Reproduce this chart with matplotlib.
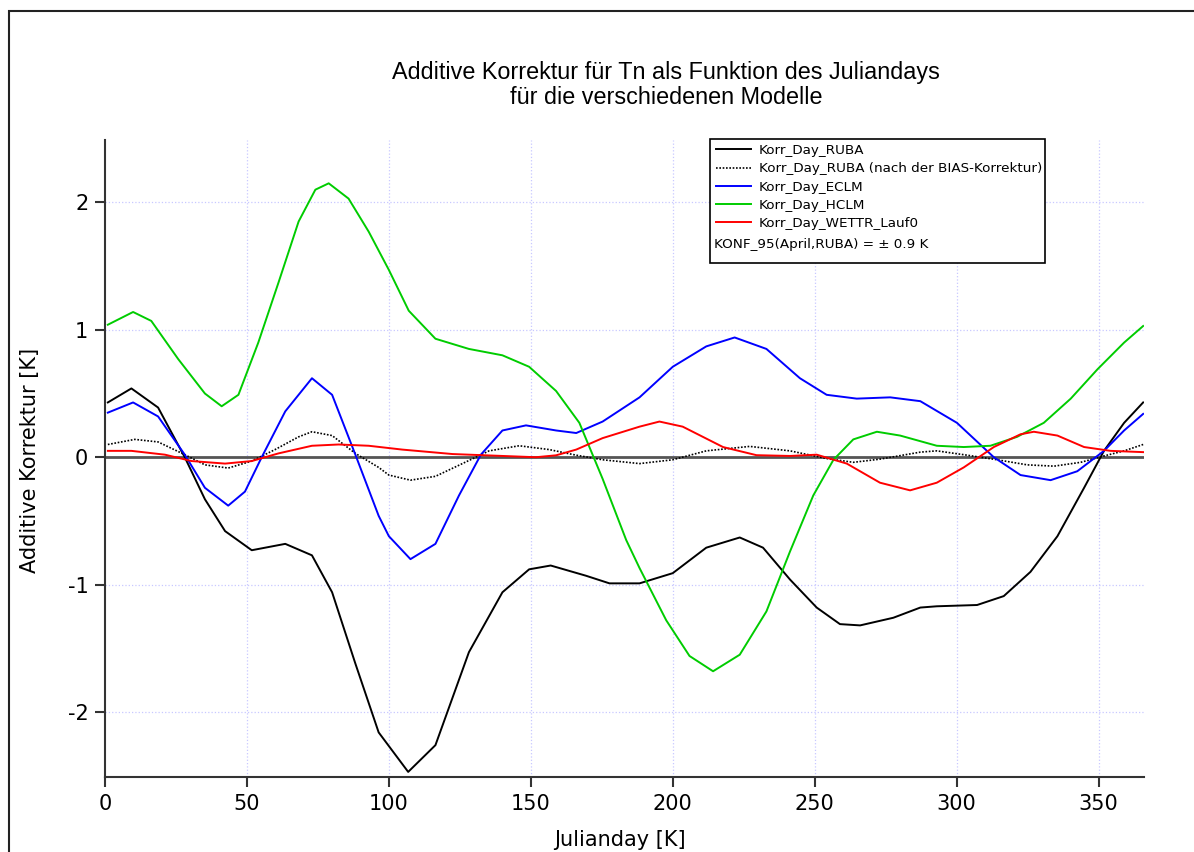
import numpy as np
import matplotlib.pyplot as plt
from matplotlib.patches import Rectangle

plt.rcParams['font.family'] = ['DejaVu Sans']
plt.rcParams['axes.unicode_minus'] = False

# values (day, correction in K)
ruba_day = [1, 9.3, 18.7, 28.1, 35.2, 42.3, 51.7, 63.5, 72.9, 80, 88.2, 96.4,
            106.8, 116.4, 128.2, 140, 149.4, 157, 169.4, 177.7, 188.3, 200,
            211.8, 223.6, 231.8, 241.3, 250.7, 258.9, 266, 277.7, 287.2,
            293, 307.2, 316.6, 326, 335.5, 344.9, 351.9, 359, 365.7]
ruba_val = [0.43, 0.54, 0.39, 0.0, -0.33, -0.58, -0.73, -0.68, -0.77, -1.06, -1.62, -2.16,
            -2.47, -2.26, -1.53, -1.06, -0.88, -0.85, -0.93, -0.99, -0.99, -0.91,
            -0.71, -0.63, -0.71, -0.96, -1.18, -1.31, -1.32, -1.26, -1.18,
            -1.17, -1.16, -1.09, -0.9, -0.62, -0.24, 0.05, 0.27, 0.43]

bias_day = [1, 10.5, 18.7, 28.1, 35.2, 43.4, 51.7, 59.9, 68.2, 72.9, 80, 88.2, 96.4,
            100, 107.6, 116.4, 125.9, 135.3, 145.9, 156.5, 166, 175.3, 188.3,
            200, 211.8, 227.1, 241.3, 254.2, 263.6, 273, 287.2, 293, 303.7,
            314.3, 324.9, 334.3, 343.7, 351.9, 359, 365.7]
bias_val = [0.10, 0.14, 0.12, 0.02, -0.06, -0.085, -0.03, 0.06, 0.16, 0.20, 0.17, 0.03, -0.08,
            -0.14, -0.18, -0.15, -0.05, 0.05, 0.09, 0.06, 0.016, -0.02, -0.05,
            -0.02, 0.05, 0.085, 0.05, -0.01, -0.04, -0.015, 0.04, 0.05, 0.016,
            -0.02, -0.06, -0.07, -0.04, 0.01, 0.05, 0.10]

eclm_day = [1, 9.9, 18.7, 28.1, 35.2, 43.4, 49.3, 55.2, 63.5, 72.9, 80, 88.2, 96.4,
            100, 107.6, 116.4, 124.7, 132.4, 140, 148.3, 158.9, 166, 175.3, 188.3,
            200, 211.8, 221.8, 233, 244.8, 254.2, 264.8, 276.6, 287.2, 300.1,
            313.1, 322.5, 333.1, 342.5, 351.9, 359, 365.7]
eclm_val = [0.35, 0.43, 0.32, 0.02, -0.24, -0.38, -0.27, 0.0, 0.36, 0.62, 0.49, 0.02, -0.46,
            -0.62, -0.80, -0.68, -0.30, 0.02, 0.21, 0.25, 0.21, 0.19, 0.28, 0.47,
            0.71, 0.87, 0.94, 0.85, 0.62, 0.49, 0.46, 0.47, 0.44, 0.27,
            0.0, -0.14, -0.18, -0.11, 0.05, 0.21, 0.34]

hclm_day = [1, 9.9, 16.3, 25.8, 35.2, 41.1, 47, 54, 61.1, 68.2, 74.1, 78.8, 85.8, 92.9,
            100, 107, 116.4, 128.2, 140, 149.4, 158.9, 167.1, 175.3, 183.6, 188.3,
            197.7, 205.9, 214.2, 223.6, 233, 241.3, 249.5, 256.6, 263.6, 271.9,
            280.1, 293, 302.5, 311.9, 321.3, 330.7, 340.2, 349.6, 359, 365.7]
hclm_val = [1.04, 1.14, 1.07, 0.77, 0.50, 0.40, 0.49, 0.90, 1.37, 1.85, 2.10, 2.15, 2.03, 1.77,
            1.47, 1.15, 0.93, 0.85, 0.80, 0.71, 0.52, 0.27, -0.17, -0.65, -0.87,
            -1.28, -1.56, -1.68, -1.55, -1.21, -0.74, -0.30, -0.02, 0.14, 0.20,
            0.17, 0.09, 0.08, 0.09, 0.16, 0.27, 0.46, 0.69, 0.90, 1.03]

wettr_day = [1, 9.3, 21.1, 30.5, 42.3, 51.7, 61.1, 72.9, 82.3, 92.9, 104.7, 122.4, 140,
             151.8, 158.9, 166, 175.3, 188.3, 195.3, 203.5, 217.7, 229.5, 241.3,
             250.7, 261.3, 273, 283.6, 293, 302.5, 313.1, 322.5, 327.2, 335.5,
             344.9, 354.2, 365.7]
wettr_val = [0.05, 0.05, 0.02, -0.03, -0.05, -0.03, 0.03, 0.09, 0.10, 0.09, 0.06, 0.025, 0.01,
             0.0, 0.015, 0.06, 0.15, 0.24, 0.28, 0.24, 0.08, 0.016, 0.01,
             0.02, -0.05, -0.2, -0.26, -0.2, -0.08, 0.08, 0.18, 0.20, 0.17,
             0.08, 0.05, 0.04]

W, H = 1194, 852
fig = plt.figure(figsize=(W / 100, H / 100), dpi=100)
ax = fig.add_axes([105 / W, 1 - 777 / H, (1144 - 105) / W, (777 - 140) / H])

# outer frame of the page
fig.patches.append(Rectangle((9 / W, -0.2), 1.2, 1.2 - 11 / H, transform=fig.transFigure,
                             fill=False, edgecolor='#222222', linewidth=1.5))

grid_c = '#c8c8ff'
for v in [50, 100, 150, 200, 250, 300, 350]:
    ax.axvline(v, color=grid_c, linestyle=':', linewidth=0.9, zorder=0)
for v in [-2, -1, 1, 2]:
    ax.axhline(v, color=grid_c, linestyle=':', linewidth=0.9, zorder=0)
ax.axhline(0, color='#555555', linewidth=2, zorder=1)

ax.plot(ruba_day, ruba_val, color='black', lw=1.4, label='Korr_Day_RUBA')
ax.plot(bias_day, bias_val, color='black', lw=1.2, linestyle=(0, (1, 1)),
        label='Korr_Day_RUBA (nach der BIAS-Korrektur)')
ax.plot(eclm_day, eclm_val, color='#0000ff', lw=1.4, label='Korr_Day_ECLM')
ax.plot(hclm_day, hclm_val, color='#00cc00', lw=1.4, label='Korr_Day_HCLM')
ax.plot(wettr_day, wettr_val, color='#ff0000', lw=1.4, label='Korr_Day_WETTR_Lauf0')

ax.set_xlim(0, 366)
ax.set_ylim(-2.51, 2.49)
ax.set_xticks([0, 50, 100, 150, 200, 250, 300, 350])
ax.set_yticks([-2, -1, 0, 1, 2])
ax.spines['top'].set_visible(False)
ax.spines['right'].set_visible(False)
for s in ['left', 'bottom']:
    ax.spines[s].set_linewidth(1.5)
    ax.spines[s].set_color('#333333')
ax.tick_params(direction='out', length=7, width=1.5, color='#333333',
               labelsize=15, pad=5)

# legend box drawn by hand so the KONF line fits below the entries
ax.add_patch(Rectangle((0.5823, 0.8069), 0.3224, 0.1947, transform=ax.transAxes,
                       facecolor='white', edgecolor='black', linewidth=1.2,
                       zorder=5, clip_on=False))
leg = ax.legend(loc='upper left', bbox_to_anchor=(0.582, 1.004),
                fontsize=9.7, frameon=False, handlelength=2.6, handletextpad=0.55,
                labelspacing=0.39, borderpad=0.5, borderaxespad=0)
leg.set_zorder(6)
ax.text(0.586, 0.8365, 'KONF_95(April,RUBA) = \u00b1 0.9 K', transform=ax.transAxes,
        fontsize=9.7, va='center', ha='left', zorder=7)

title_font = ['Liberation Sans', 'DejaVu Sans']
fig.text(666 / W, 1 - 72 / H, 'Additive Korrektur für Tn als Funktion des Juliandays',
         ha='center', va='center', fontsize=16.8, family=title_font)
fig.text(666 / W, 1 - 98 / H, 'für die verschiedenen Modelle',
         ha='center', va='center', fontsize=16.8, family=title_font)

fig.text(620 / W, 1 - 840 / H, 'Julianday [K]', ha='center', va='center', fontsize=15)
fig.text(30 / W, 1 - 460 / H, 'Additive Korrektur [K]', ha='center', va='center',
         fontsize=15, rotation=90)

fig.savefig('out.png', dpi=100)
